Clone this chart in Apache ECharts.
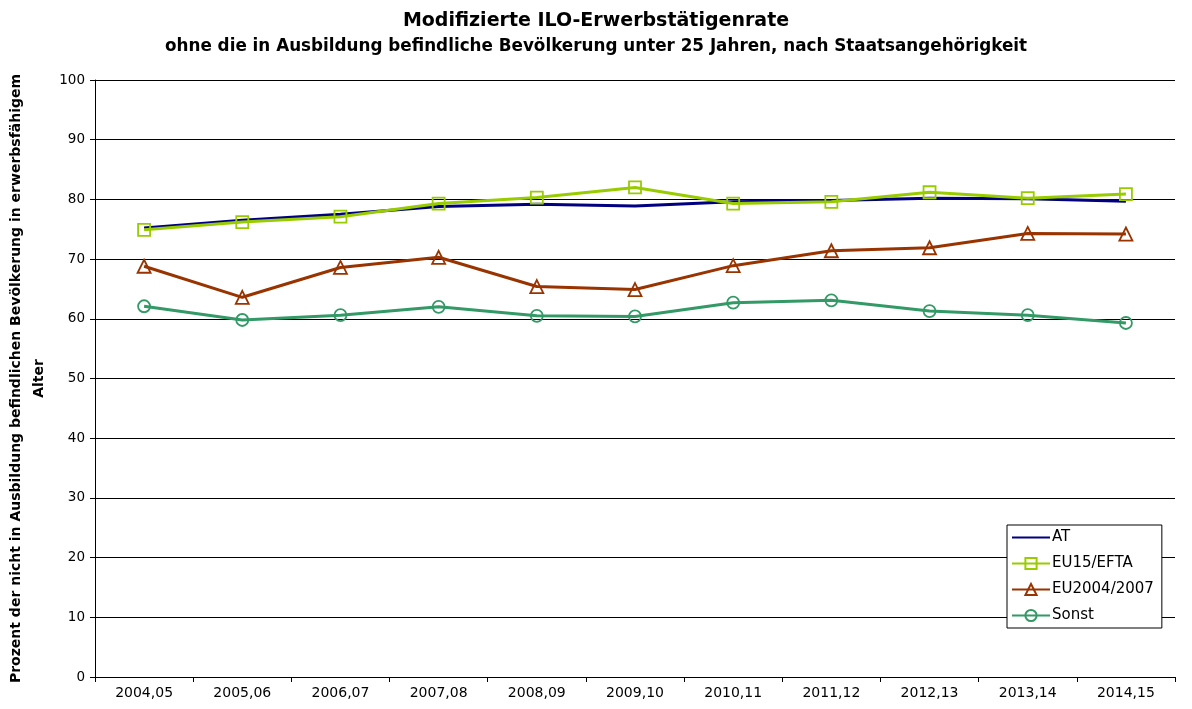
<!DOCTYPE html>
<html>
<head>
<meta charset="utf-8">
<script src="https://cdn.jsdelivr.net/npm/echarts@6/dist/echarts.min.js"></script>
<style>
  html,body{margin:0;padding:0;background:#fff;}
  #chart{width:1192px;height:709px;}
</style>
</head>
<body>
<div id="chart"></div>
<script>
// Jahre (Kategorien)
const years = ['2004,05','2005,06','2006,07','2007,08','2008,09','2009,10','2010,11','2011,12','2012,13','2013,14','2014,15'];
// Werte je Staatsangehörigkeit
const at = [75.2, 76.5, 77.5, 78.8, 79.2, 78.9, 79.6, 79.8, 80.2, 80.1, 79.7];
const eu15 = [74.9, 76.2, 77.1, 79.3, 80.3, 82.0, 79.3, 79.6, 81.2, 80.2, 80.9];
const eu0407 = [68.8, 63.6, 68.6, 70.3, 65.4, 64.9, 68.9, 71.4, 71.9, 74.3, 74.2];
const sonst = [62.1, 59.8, 60.6, 62.0, 60.5, 60.4, 62.7, 63.1, 61.3, 60.6, 59.3];
const yTicks = [0,10,20,30,40,50,60,70,80,90,100];

const font = 'DejaVu Sans, Liberation Sans, Arial, sans-serif';
const chart = echarts.init(document.getElementById('chart'));

function lineSeries(name, data, color, symbol){
  return {
    name: name,
    type: 'line',
    data: data,
    symbol: symbol || 'none',
    symbolSize: symbol === 'triangle' ? 13 : 12,
    showSymbol: !!symbol,
    lineStyle: {color: color, width: 3},
    // ohne Marker: auch in der Legende kein Symbol
    itemStyle: {color: 'rgba(255,255,255,0)', borderColor: color, borderWidth: symbol ? 1.8 : 0},
    emphasis: {disabled: true},
    z: 2
  };
}

chart.setOption({
  animation: false,
  backgroundColor: '#fff',
  title: {
    text: 'Modifizierte ILO-Erwerbstätigenrate',
    subtext: 'ohne die in Ausbildung befindliche Bevölkerung unter 25 Jahren, nach Staatsangehörigkeit',
    left: 'center',
    top: 7,
    itemGap: 7,
    textStyle: {fontFamily: font, fontSize: 19, fontWeight: 'bold', color: '#000'},
    subtextStyle: {fontFamily: font, fontSize: 16.8, fontWeight: 'bold', color: '#000'}
  },
  legend: {
    orient: 'vertical',
    left: 1007,
    top: 525,
    padding: [5, 8, 5, 4],
    itemGap: 11,
    itemWidth: 38,
    itemHeight: 14,
    backgroundColor: '#fff',
    borderColor: '#000',
    borderWidth: 1,
    textStyle: {fontFamily: font, fontSize: 15, color: '#000', padding: [0, 0, 0, -3]},
    data: ['AT', 'EU15/EFTA', 'EU2004/2007', 'Sonst']
  },
  grid: {left: 95, right: 17, top: 80, bottom: 32, containLabel: false, outerBoundsMode: 'none'},
  xAxis: {
    type: 'category',
    data: years,
    boundaryGap: true,
    axisLine: {lineStyle: {color: '#000', width: 1}},
    axisTick: {show: true, length: 5, lineStyle: {color: '#000'}},
    axisLabel: {fontFamily: font, fontSize: 14, color: '#000', margin: 9}
  },
  yAxis: {
    type: 'value',
    min: 0,
    max: 100,
    interval: 10,
    name: 'Prozent der nicht in Ausbildung befindlichen Bevölkerung in erwerbsfähigem\nAlter',
    nameLocation: 'middle',
    nameGap: 44,
    nameMoveOverlap: false,
    nameTextStyle: {fontFamily: font, fontSize: 14, fontWeight: 'bold', color: '#000', lineHeight: 23},
    axisLine: {show: true, lineStyle: {color: '#000', width: 1}},
    axisTick: {show: true, length: 5, lineStyle: {color: '#000'}},
    axisLabel: {fontFamily: font, fontSize: 13.5, color: '#000', margin: 10,
      formatter: v => yTicks.includes(v) ? String(v) : ''},
    splitLine: {show: true, lineStyle: {color: '#000', width: 1}}
  },
  series: [
    lineSeries('AT', at, '#000080'),
    lineSeries('EU15/EFTA', eu15, '#99CC00', 'rect'),
    lineSeries('EU2004/2007', eu0407, '#993300', 'triangle'),
    lineSeries('Sonst', sonst, '#339966', 'circle')
  ]
});
</script>
</body>
</html>
